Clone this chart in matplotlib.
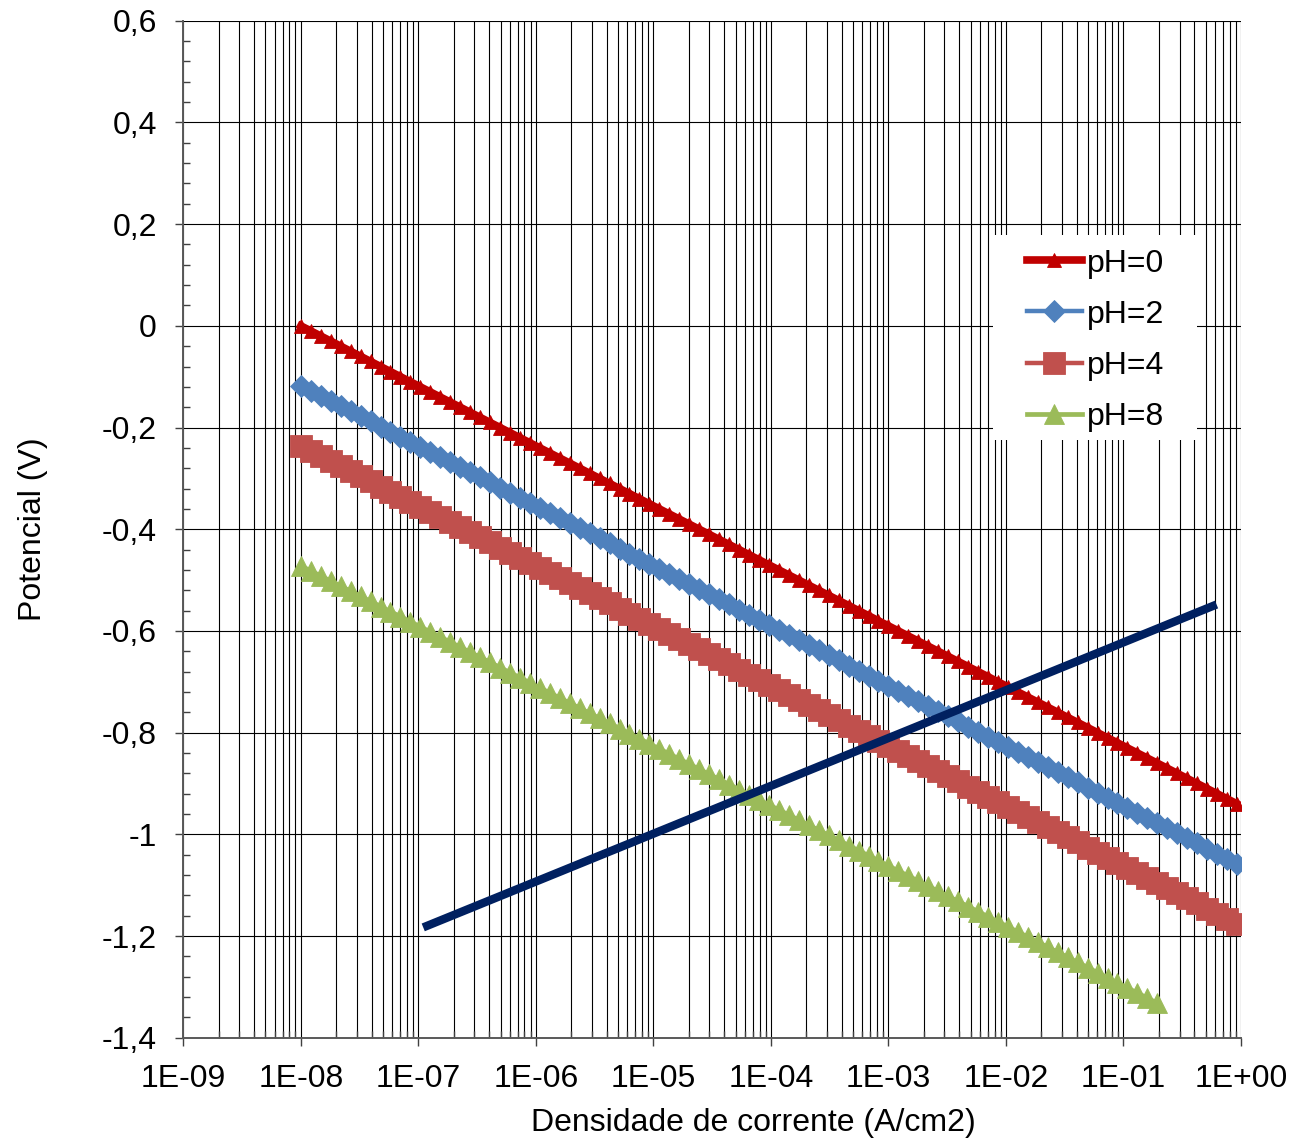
import matplotlib
matplotlib.use("Agg")
import matplotlib.pyplot as plt
from matplotlib.ticker import FixedLocator, LogLocator, MultipleLocator, FuncFormatter, NullFormatter
from matplotlib.patches import Rectangle

plt.rcParams["font.family"] = ["Liberation Sans", "DejaVu Sans"]

# ── Dados ────────────────────────────────────────────────────
# densidade de corrente (A/cm2), igual para as quatro curvas
densidade = [
    1.000e-8, 1.215e-8, 1.477e-8, 1.796e-8, 2.183e-8, 2.653e-8, 3.225e-8, 3.919e-8, 4.764e-8, 5.790e-8, 7.038e-8, 8.555e-8,
    1.040e-7, 1.264e-7, 1.536e-7, 1.867e-7, 2.270e-7, 2.759e-7, 3.353e-7, 4.075e-7, 4.954e-7, 6.021e-7, 7.318e-7, 8.895e-7,
    1.081e-6, 1.314e-6, 1.597e-6, 1.942e-6, 2.360e-6, 2.868e-6, 3.486e-6, 4.238e-6, 5.151e-6, 6.261e-6, 7.610e-6, 9.249e-6,
    1.124e-5, 1.366e-5, 1.661e-5, 2.019e-5, 2.454e-5, 2.983e-5, 3.625e-5, 4.406e-5, 5.356e-5, 6.510e-5, 7.912e-5, 9.617e-5,
    1.169e-4, 1.421e-4, 1.727e-4, 2.099e-4, 2.551e-4, 3.101e-4, 3.769e-4, 4.582e-4, 5.569e-4, 6.769e-4, 8.227e-4,
    1.000e-3, 1.215e-3, 1.477e-3, 1.796e-3, 2.183e-3, 2.653e-3, 3.225e-3, 3.919e-3, 4.764e-3, 5.790e-3, 7.038e-3, 8.555e-3,
    1.040e-2, 1.264e-2, 1.536e-2, 1.867e-2, 2.270e-2, 2.759e-2, 3.353e-2, 4.075e-2, 4.954e-2, 6.021e-2, 7.318e-2, 8.895e-2,
    1.081e-1, 1.314e-1, 1.597e-1, 1.942e-1, 2.360e-1, 2.868e-1, 3.486e-1, 4.238e-1, 5.151e-1, 6.261e-1, 7.610e-1, 9.249e-1,
]

pot_ph0 = [
    0.000, -0.010, -0.020, -0.030, -0.040, -0.050, -0.060, -0.070, -0.080, -0.090,
    -0.100, -0.110, -0.120, -0.130, -0.140, -0.150, -0.160, -0.170, -0.180, -0.190,
    -0.200, -0.210, -0.220, -0.230, -0.240, -0.250, -0.260, -0.270, -0.280, -0.290,
    -0.300, -0.310, -0.320, -0.330, -0.340, -0.350, -0.360, -0.370, -0.380, -0.390,
    -0.400, -0.410, -0.420, -0.430, -0.440, -0.450, -0.460, -0.470, -0.480, -0.490,
    -0.500, -0.510, -0.520, -0.530, -0.540, -0.550, -0.560, -0.570, -0.580, -0.590,
    -0.600, -0.610, -0.620, -0.630, -0.640, -0.650, -0.660, -0.670, -0.680, -0.690,
    -0.700, -0.710, -0.720, -0.730, -0.740, -0.750, -0.760, -0.770, -0.780, -0.790,
    -0.800, -0.810, -0.820, -0.830, -0.840, -0.850, -0.860, -0.870, -0.880, -0.890,
    -0.900, -0.910, -0.920, -0.930, -0.940,
]
pot_ph2 = [
    -0.118, -0.128, -0.138, -0.148, -0.158, -0.168, -0.178, -0.188, -0.198, -0.208,
    -0.218, -0.228, -0.238, -0.248, -0.258, -0.268, -0.278, -0.288, -0.298, -0.308,
    -0.318, -0.328, -0.338, -0.348, -0.358, -0.368, -0.378, -0.388, -0.398, -0.408,
    -0.418, -0.428, -0.438, -0.448, -0.458, -0.468, -0.478, -0.488, -0.498, -0.508,
    -0.518, -0.528, -0.538, -0.548, -0.558, -0.568, -0.578, -0.588, -0.598, -0.608,
    -0.618, -0.628, -0.638, -0.648, -0.658, -0.668, -0.678, -0.688, -0.698, -0.708,
    -0.718, -0.728, -0.738, -0.748, -0.758, -0.768, -0.778, -0.788, -0.798, -0.808,
    -0.818, -0.828, -0.838, -0.848, -0.858, -0.868, -0.878, -0.888, -0.898, -0.908,
    -0.918, -0.928, -0.938, -0.948, -0.958, -0.968, -0.978, -0.988, -0.998, -1.008,
    -1.018, -1.028, -1.038, -1.048, -1.058,
]
pot_ph4 = [
    -0.236, -0.246, -0.256, -0.266, -0.276, -0.286, -0.296, -0.306, -0.316, -0.326,
    -0.336, -0.346, -0.356, -0.366, -0.376, -0.386, -0.396, -0.406, -0.416, -0.426,
    -0.436, -0.446, -0.456, -0.466, -0.476, -0.486, -0.496, -0.506, -0.516, -0.526,
    -0.536, -0.546, -0.556, -0.566, -0.576, -0.586, -0.596, -0.606, -0.616, -0.626,
    -0.636, -0.646, -0.656, -0.666, -0.676, -0.686, -0.696, -0.706, -0.716, -0.726,
    -0.736, -0.746, -0.756, -0.766, -0.776, -0.786, -0.796, -0.806, -0.816, -0.826,
    -0.836, -0.846, -0.856, -0.866, -0.876, -0.886, -0.896, -0.906, -0.916, -0.926,
    -0.936, -0.946, -0.956, -0.966, -0.976, -0.986, -0.996, -1.006, -1.016, -1.026,
    -1.036, -1.046, -1.056, -1.066, -1.076, -1.086, -1.096, -1.106, -1.116, -1.126,
    -1.136, -1.146, -1.156, -1.166, -1.176,
]
pot_ph8 = [
    -0.472, -0.482, -0.492, -0.502, -0.512, -0.522, -0.532, -0.542, -0.552, -0.562,
    -0.572, -0.582, -0.592, -0.602, -0.612, -0.622, -0.632, -0.642, -0.652, -0.662,
    -0.672, -0.682, -0.692, -0.702, -0.712, -0.722, -0.732, -0.742, -0.752, -0.762,
    -0.772, -0.782, -0.792, -0.802, -0.812, -0.822, -0.832, -0.842, -0.852, -0.862,
    -0.872, -0.882, -0.892, -0.902, -0.912, -0.922, -0.932, -0.942, -0.952, -0.962,
    -0.972, -0.982, -0.992, -1.002, -1.012, -1.022, -1.032, -1.042, -1.052, -1.062,
    -1.072, -1.082, -1.092, -1.102, -1.112, -1.122, -1.132, -1.142, -1.152, -1.162,
    -1.172, -1.182, -1.192, -1.202, -1.212, -1.222, -1.232, -1.242, -1.252, -1.262,
    -1.272, -1.282, -1.292, -1.302, -1.312, -1.322, -1.332,
]

# reta anódica (azul escuro)
anodica_x = [1.10e-7, 0.62]
anodica_y = [-1.183, -0.548]

rotulos = ["pH=0", "pH=2", "pH=4", "pH=8"]
potenciais = [pot_ph0, pot_ph2, pot_ph4, pot_ph8]
cores = ["#C00000", "#4F81BD", "#C0504D", "#9BBB59"]
marcadores = ["^", "D", "s", "^"]
tam_marcador = [10, 11.5, 16, 15]
esp_linha = [5.5, 3.2, 3.2, 3.4]

xticks = [1e-9, 1e-8, 1e-7, 1e-6, 1e-5, 1e-4, 1e-3, 1e-2, 1e-1, 1e0]

# ── Figura ───────────────────────────────────────────────────
fig = plt.figure(figsize=(12.92, 11.39), dpi=100)
ax = fig.add_axes([0.1419, 0.0889, 0.8186, 0.8929])

for rot, pot, cor, mk, ms, lw in zip(rotulos, potenciais, cores, marcadores, tam_marcador, esp_linha):
    ax.plot(densidade[:len(pot)], pot, color=cor, lw=lw, marker=mk, ms=ms,
            mec=cor, mew=0.6, label=rot, zorder=3)

ax.plot(anodica_x, anodica_y, color="#002060", lw=6, solid_capstyle="butt", zorder=4)

ax.set_xscale("log")
ax.set_xlim(1e-9, 1e0)
ax.set_ylim(-1.4, 0.6)

ax.xaxis.set_major_locator(FixedLocator(xticks))
ax.xaxis.set_minor_locator(LogLocator(base=10, subs=range(2, 10), numticks=20))
ax.xaxis.set_major_formatter(FuncFormatter(lambda v, p: f"{v:.0E}"))
ax.xaxis.set_minor_formatter(NullFormatter())

ax.yaxis.set_major_locator(MultipleLocator(0.2))
ax.yaxis.set_minor_locator(MultipleLocator(0.04))
ax.yaxis.set_major_formatter(FuncFormatter(lambda v, p: f"{round(v, 2):g}".replace(".", ",")))

ax.grid(True, which="major", axis="both", color="black", lw=0.8, zorder=1)
ax.grid(True, which="minor", axis="x", color="black", lw=0.8, zorder=1)
ax.set_axisbelow(True)

ax.tick_params(which="major", direction="out", length=6, width=1, color="#404040",
               labelsize=23, pad=13)
ax.tick_params(which="minor", direction="in", length=5, width=1, color="#404040")

for lado in ["top", "right"]:
    ax.spines[lado].set_visible(False)
for lado in ["left", "bottom"]:
    ax.spines[lado].set_color("#595959")
    ax.spines[lado].set_linewidth(1.4)

ax.set_xlabel("Densidade de corrente (A/cm2)", fontsize=23)
ax.set_ylabel("Potencial (V)", fontsize=23)
ax.xaxis.set_label_coords(0.539, -0.0836)
ax.xaxis.label.set_verticalalignment("center")
ax.yaxis.set_label_coords(-0.1426, 0.5)
ax.yaxis.label.set_verticalalignment("center")

# fundo branco da legenda
ax.add_patch(Rectangle((0.7655, 0.5877), 0.1929, 0.2016, transform=ax.transAxes,
                       facecolor="white", edgecolor="none", zorder=2))
ax.legend(loc="upper left", bbox_to_anchor=(0.7977, 0.776), frameon=False,
          fontsize=23, borderpad=0, borderaxespad=0, handlelength=1.72,
          handletextpad=0.16, labelspacing=0.66)

fig.savefig("out.png", dpi=100)
plt.close(fig)
